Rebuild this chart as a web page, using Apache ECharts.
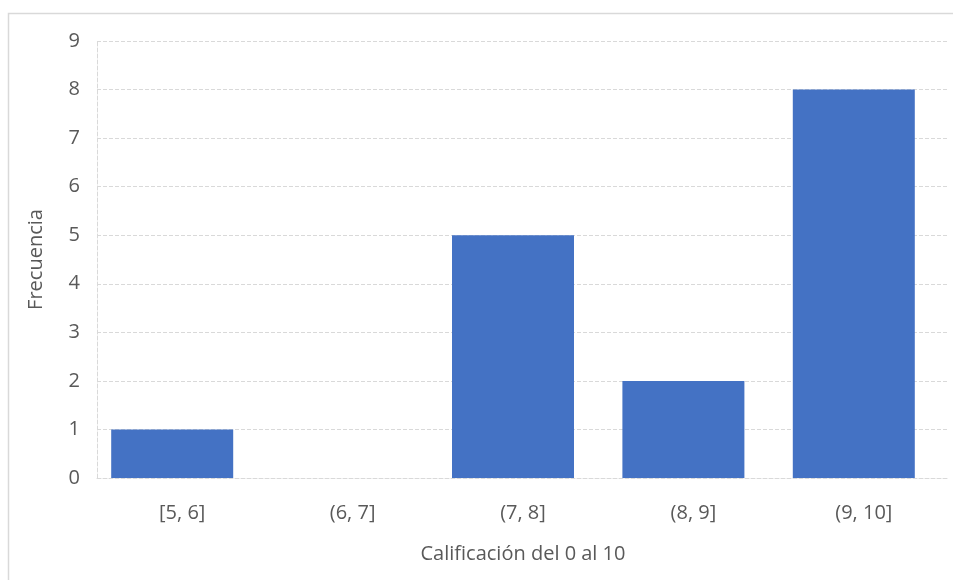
<!DOCTYPE html>
<html>
<head>
<meta charset="utf-8">
<script src="https://cdn.jsdelivr.net/npm/echarts@6/dist/echarts.min.js"></script>
<style>
  html, body { margin: 0; padding: 0; background: #ffffff; }
  #chart { width: 953px; height: 580px; }
</style>
</head>
<body>
<div id="chart"></div>
<script>
// Histogram of grades: frequency per interval
const categories = ['[5, 6]', '(6, 7]', '(7, 8]', '(8, 9]', '(9, 10]'];
const frequencies = [1, 0, 5, 2, 8];
const yTicks = [0, 1, 2, 3, 4, 5, 6, 7, 8, 9];

const BAR_COLOR = '#4472C4';
const TEXT_COLOR = '#595959';
const GRID_COLOR = '#d9d9d9';
const FONT = '"Open Sans", sans-serif';
const FONT_SIZE = 20;
const BAR_WIDTH = 122;
const BAR_SHIFT = -10;

const chart = echarts.init(document.getElementById('chart'), null, { renderer: 'canvas' });

chart.setOption({
  animation: false,
  backgroundColor: '#ffffff',
  graphic: [{
    type: 'rect',
    shape: { x: 8.5, y: 13.5, width: 960, height: 600 },
    style: { fill: 'none', stroke: GRID_COLOR, lineWidth: 1.5 },
    silent: true
  }],
  grid: { left: 97, right: 4, top: 41, bottom: 102 },
  xAxis: {
    type: 'category',
    data: categories,
    name: 'Calificación del 0 al 10',
    nameLocation: 'middle',
    nameGap: 66,
    nameTextStyle: { color: TEXT_COLOR, fontFamily: FONT, fontSize: FONT_SIZE },
    axisLine: { show: true, lineStyle: { color: GRID_COLOR, type: 'dashed', width: 1 } },
    axisTick: { show: false },
    axisLabel: { color: TEXT_COLOR, fontFamily: FONT, fontSize: FONT_SIZE, margin: 25 },
    splitLine: { show: false }
  },
  yAxis: {
    type: 'value',
    min: yTicks[0],
    max: yTicks[yTicks.length - 1],
    interval: 1,
    name: 'Frecuencia',
    nameLocation: 'middle',
    nameGap: 51,
    nameTextStyle: { color: TEXT_COLOR, fontFamily: FONT, fontSize: FONT_SIZE },
    axisLine: { show: true, lineStyle: { color: GRID_COLOR, type: 'dashed', width: 1 } },
    axisTick: { show: false },
    axisLabel: { color: TEXT_COLOR, fontFamily: FONT, fontSize: FONT_SIZE, margin: 17 },
    splitLine: { show: true, lineStyle: { color: GRID_COLOR, type: 'dashed', width: 1 } }
  },
  series: [{
    type: 'custom',
    data: frequencies.map((v, i) => [i, v]),
    encode: { x: 0, y: 1 },
    renderItem: function (params, api) {
      const value = api.value(1);
      if (!value) return null;
      const top = api.coord([api.value(0), value]);
      const base = api.coord([api.value(0), 0]);
      return {
        type: 'rect',
        shape: {
          x: top[0] - BAR_WIDTH / 2 + BAR_SHIFT,
          y: top[1],
          width: BAR_WIDTH,
          height: base[1] - top[1]
        },
        style: { fill: BAR_COLOR }
      };
    }
  }]
});
</script>
</body>
</html>
